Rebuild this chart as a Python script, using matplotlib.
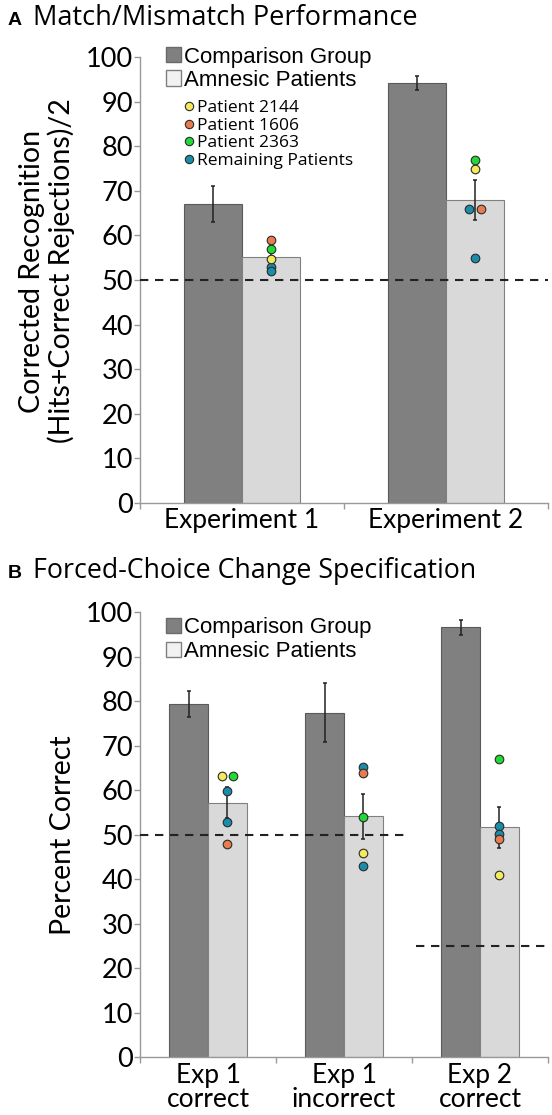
import matplotlib
matplotlib.use("Agg")
import matplotlib.pyplot as plt
from matplotlib.lines import Line2D
from matplotlib.patches import Rectangle

# ---- data ----
a_groups = ["Experiment 1", "Experiment 2"]
a_comp = [67.0, 94.2]
a_comp_err = [4.0, 1.6]
a_amn = [55.2, 67.9]
a_amn_err = [2.5, 4.5]
a_p2144 = [54.8, 74.9]
a_p1606 = [59.0, 66.0]
a_p2363 = [57.0, 76.9]
a_rest = [[52.9, 52.1], [66.0, 54.9]]
a_chance = [50, 50]

b_groups = ["Exp 1\ncorrect", "Exp 1\nincorrect", "Exp 2\ncorrect"]
b_comp = [79.4, 77.4, 96.6]
b_comp_err = [2.9, 6.6, 1.7]
b_amn = [57.2, 54.1, 51.7]
b_amn_err = [3.5, 5.0, 4.6]
b_p2144 = [63.1, 45.9, 41.0]
b_p1606 = [47.9, 63.9, 49.0]
b_p2363 = [63.1, 54.0, 67.0]
b_rest = [[59.9, 52.9], [65.1, 43.0], [52.0, 50.2]]
b_chance = [50, 50, 25]

patient_names = ["Patient 2144", "Patient 1606", "Patient 2363", "Remaining Patients"]
patient_colors = ["#F3EB5C", "#E87C50", "#22DA36", "#1A8DAA"]

COMP = "#808080"
AMN = "#D9D9D9"
W, H = 552, 1115
BW = 0.285
TICKFONT = "Lato"

fig = plt.figure(figsize=(W / 100, H / 100), dpi=100)


def px_rect(x0, y_top, x1, y_bot):
    return [x0 / W, 1 - y_bot / H, (x1 - x0) / W, (y_bot - y_top) / H]


def draw_panel(ax, groups, comp, comp_err, amn, amn_err, p2144, p1606, p2363, rest, chance, dx):
    n = len(groups)
    xs = list(range(n))
    ax.bar([x - BW / 2 for x in xs], comp, BW, color=COMP, edgecolor="#5a5a5a", lw=0.8, zorder=2)
    ax.bar([x + BW / 2 for x in xs], amn, BW, color=AMN, edgecolor="#808080", lw=0.8, zorder=2)
    ax.errorbar([x - BW / 2 for x in xs], comp, yerr=comp_err, fmt="none", ecolor="#222",
                elinewidth=1.1, capsize=1.6, capthick=1.1, zorder=3)
    ax.errorbar([x + BW / 2 for x in xs], amn, yerr=amn_err, fmt="none", ecolor="#222",
                elinewidth=1.1, capsize=1.6, capthick=1.1, zorder=3)

    for i in xs:
        cx = i + BW / 2
        pts = [(v, patient_colors[3]) for v in rest[i]]
        pts += [(p1606[i], patient_colors[1]), (p2144[i], patient_colors[0]), (p2363[i], patient_colors[2])]
        vals = [v for v, _ in pts]
        for v, c in pts:
            same = [j for j, w in enumerate(vals) if w == v]
            off = 0
            if len(same) > 1:
                k = [j for j, (w, cc) in enumerate(pts) if w == v and cc == c][0]
                off = -dx if k == same[0] else dx
            ax.plot(cx + off, v, "o", ms=6.2, mfc=c, mec="#2a2a2a", mew=0.8, zorder=4, clip_on=False)

    # chance lines, one per group, merged where equal
    start = 0
    for i in range(1, n + 1):
        if i == n or chance[i] != chance[start]:
            x0 = start - 0.5 + (0.03 if start > 0 else 0)
            x1 = i - 0.5 - (0.04 if i < n else 0)
            ax.plot([x0, x1], [chance[start], chance[start]], color="#222", lw=1.5,
                    dashes=(4, 3.2), zorder=5)
            start = i

    ax.set_xlim(-0.5, n - 0.5)
    ax.set_ylim(0, 100)
    ax.set_yticks(range(0, 101, 10))
    ax.set_xticks(xs)
    ax.set_xticklabels(groups, fontsize=19, family=TICKFONT, linespacing=0.95)
    ax.set_xticks([x - 0.5 for x in range(n + 1)], minor=True)
    ax.tick_params(axis="x", which="major", length=0, pad=4)
    ax.tick_params(axis="x", which="minor", length=4, color="#999", width=1)
    ax.tick_params(axis="y", length=4, color="#999", width=1, pad=1, labelsize=19.5)
    for lab in ax.get_yticklabels():
        lab.set_family(TICKFONT)
    for s in ["top", "right"]:
        ax.spines[s].set_visible(False)
    for s in ["left", "bottom"]:
        ax.spines[s].set_color("#999")
        ax.spines[s].set_linewidth(1)


def bar_legend(y_top):
    for k, (lab, fc, ec) in enumerate([("Comparison Group", COMP, "#6a6a6a"),
                                      ("Amnesic Patients", "#F2F2F2", "#808080")]):
        yc = y_top + 8 + k * 23.5
        fig.add_artist(Rectangle((166 / W, 1 - (yc + 7.5) / H), 15 / W, 15 / H,
                                 transform=fig.transFigure, fc=fc, ec=ec, lw=1))
        fig.text(184 / W, 1 - yc / H, lab, fontsize=16, family="Liberation Sans",
                 va="center_baseline", ha="left")


axA = fig.add_axes(px_rect(140, 57.3, 548, 502.7))
draw_panel(axA, a_groups, a_comp, a_comp_err, a_amn, a_amn_err,
           a_p2144, a_p1606, a_p2363, a_rest, a_chance, 0.028)
axB = fig.add_axes(px_rect(140, 612.0, 548, 1057.2))
draw_panel(axB, b_groups, b_comp, b_comp_err, b_amn, b_amn_err,
           b_p2144, b_p1606, b_p2363, b_rest, b_chance, 0.04)

bar_legend(46.5)
bar_legend(617.5)

for k, (name, c) in enumerate(zip(patient_names, patient_colors)):
    yc = 106 + k * 17.7
    fig.add_artist(Line2D([189 / W], [1 - yc / H], marker="o", ms=6, mfc=c, mec="#2a2a2a",
                          mew=0.8, transform=fig.transFigure))
    fig.text(197 / W, 1 - yc / H, name, fontsize=12.5, family="Open Sans",
             va="center_baseline", ha="left")

# panel titles
fig.text(8 / W, 1 - 25 / H, "A", fontsize=14, fontweight="bold", family="Liberation Sans")
fig.text(33 / W, 1 - 25 / H, "Match/Mismatch Performance", fontsize=19.5, family="Open Sans")
fig.text(8 / W, 1 - 578 / H, "B", fontsize=14, fontweight="bold", family="Liberation Sans")
fig.text(33 / W, 1 - 578 / H, "Forced-Choice Change Specification", fontsize=19.3, family="Open Sans")

# y labels
fig.text(47 / W, 1 - 271 / H, "Corrected Recognition\n(Hits+Correct Rejections)/2",
         rotation=90, fontsize=20.5, family=TICKFONT, ha="center", va="center",
         multialignment="center", linespacing=1.1)
fig.text(63 / W, 1 - 835 / H, "Percent Correct", rotation=90, fontsize=20.5,
         family=TICKFONT, ha="center", va="center")

fig.savefig("out.png", dpi=100)
